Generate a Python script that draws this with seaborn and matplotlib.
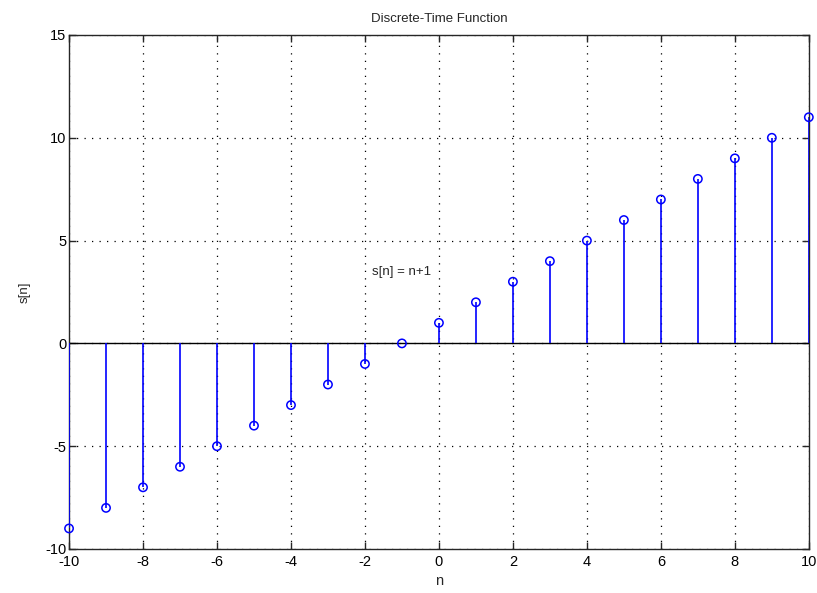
import matplotlib
matplotlib.use("Agg")
import matplotlib.pyplot as plt
import seaborn as sns
import pandas as pd

n_vals = [-10, -9, -8, -7, -6, -5, -4, -3, -2, -1, 0, 1, 2, 3, 4, 5, 6, 7, 8, 9, 10]
s_vals = [-9, -8, -7, -6, -5, -4, -3, -2, -1, 0, 1, 2, 3, 4, 5, 6, 7, 8, 9, 10, 11]
x_ticks = [-10, -8, -6, -4, -2, 0, 2, 4, 6, 8, 10]
y_ticks = [-10, -5, 0, 5, 10, 15]
title_text = "Discrete-Time Function"
xlabel_text = "n"
ylabel_text = "s[n]"
annot_text = "s[n] = n+1"

sns.set_style("white")
plt.rcParams['font.family'] = ['Liberation Sans', 'DejaVu Sans']
plt.rcParams['axes.unicode_minus'] = False

df = pd.DataFrame({"n": n_vals, "s": s_vals})

fig = plt.figure(figsize=(8.17, 5.93), dpi=100)
ax = fig.add_axes([0.0845, 0.0742, 0.9055, 0.8668])

blue = "#0000ff"
ax.axhline(0, color="black", lw=1.0, zorder=2)
ax.vlines(df["n"], 0, df["s"], color=blue, lw=1.2, zorder=3)
sns.scatterplot(data=df, x="n", y="s", ax=ax, marker="o", s=36,
                facecolors="none", edgecolor=blue, linewidth=1.1, zorder=4,
                legend=False, clip_on=False)

ax.set_xlim(-10, 10)
ax.set_ylim(-10, 15)
ax.set_xticks(x_ticks)
ax.set_yticks(y_ticks)
ax.grid(True, color="black", linestyle=(0, (1, 5)), linewidth=0.9)
ax.set_axisbelow(True)
for sp in ax.spines.values():
    sp.set_color("#262626")
    sp.set_linewidth(1.0)
    sp.set_visible(True)
ax.tick_params(direction="in", length=5, width=1, color="#262626",
               labelsize=10.5, labelcolor="black", top=True, right=True,
               bottom=True, left=True)
ax.tick_params(axis="x", pad=4)
ax.tick_params(axis="y", pad=2)

ax.set_title(title_text, fontsize=9.5, pad=9)
ax.set_xlabel(xlabel_text, fontsize=10.5, labelpad=4)
ax.set_ylabel(ylabel_text, fontsize=9.5, labelpad=10)
ax.text(-1.8, 3.45, annot_text, fontsize=9.5, va="center", ha="left")

fig.savefig("out.png", dpi=100)
